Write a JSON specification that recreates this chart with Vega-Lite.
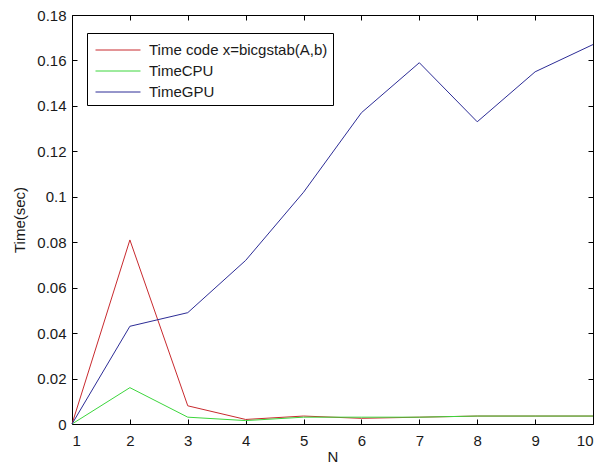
{
  "$schema": "https://vega.github.io/schema/vega-lite/v6.json",
  "width": 521,
  "height": 409,
  "autosize": {"type": "none"},
  "padding": {"left": 72, "top": 15, "right": 9, "bottom": 42},
  "background": "white",
  "config": {
    "font": "Liberation Sans",
    "view": {"stroke": "black", "strokeWidth": 1},
    "axis": {"grid": false, "domain": false, "tickColor": "black", "tickSize": 5, "offset": -5, "labelColor": "#1a1a1a", "labelFontSize": 15, "labelFont": "Liberation Sans", "titleFont": "Liberation Sans", "titleFontWeight": "normal", "titleFontSize": 15, "titleColor": "#1a1a1a"}
  },
  "data": {"values": [
    {"N": 1, "s": "Time code x=bicgstab(A,b)", "t": 0},
    {"N": 2, "s": "Time code x=bicgstab(A,b)", "t": 0.081},
    {"N": 3, "s": "Time code x=bicgstab(A,b)", "t": 0.008},
    {"N": 4, "s": "Time code x=bicgstab(A,b)", "t": 0.002},
    {"N": 5, "s": "Time code x=bicgstab(A,b)", "t": 0.0035},
    {"N": 6, "s": "Time code x=bicgstab(A,b)", "t": 0.0025},
    {"N": 7, "s": "Time code x=bicgstab(A,b)", "t": 0.003},
    {"N": 8, "s": "Time code x=bicgstab(A,b)", "t": 0.0035},
    {"N": 9, "s": "Time code x=bicgstab(A,b)", "t": 0.0035},
    {"N": 10, "s": "Time code x=bicgstab(A,b)", "t": 0.0035},
    {"N": 1, "s": "TimeCPU", "t": 0},
    {"N": 2, "s": "TimeCPU", "t": 0.016},
    {"N": 3, "s": "TimeCPU", "t": 0.003},
    {"N": 4, "s": "TimeCPU", "t": 0.0015},
    {"N": 5, "s": "TimeCPU", "t": 0.003},
    {"N": 6, "s": "TimeCPU", "t": 0.003},
    {"N": 7, "s": "TimeCPU", "t": 0.003},
    {"N": 8, "s": "TimeCPU", "t": 0.0035},
    {"N": 9, "s": "TimeCPU", "t": 0.0035},
    {"N": 10, "s": "TimeCPU", "t": 0.0035},
    {"N": 1, "s": "TimeGPU", "t": 0},
    {"N": 2, "s": "TimeGPU", "t": 0.043},
    {"N": 3, "s": "TimeGPU", "t": 0.049},
    {"N": 4, "s": "TimeGPU", "t": 0.072},
    {"N": 5, "s": "TimeGPU", "t": 0.102},
    {"N": 6, "s": "TimeGPU", "t": 0.137},
    {"N": 7, "s": "TimeGPU", "t": 0.159},
    {"N": 8, "s": "TimeGPU", "t": 0.133},
    {"N": 9, "s": "TimeGPU", "t": 0.155},
    {"N": 10, "s": "TimeGPU", "t": 0.167}
  ]},
  "layer": [
    {
      "mark": {"type": "line", "strokeWidth": 1},
      "encoding": {
        "x": {"field": "N", "type": "quantitative", "scale": {"domain": [1, 10], "nice": false},
              "axis": {"values": [1,2,3,4,5,6,7,8,9,10], "format": "d", "title": "N", "labelPadding": 9, "titlePadding": 1}},
        "y": {"field": "t", "type": "quantitative", "scale": {"domain": [0, 0.18], "nice": false},
              "axis": {"values": [0,0.02,0.04,0.06,0.08,0.1,0.12,0.14,0.16,0.18], "format": "~g", "title": "Time(sec)", "labelPadding": 6, "titlePadding": 9}},
        "color": {"field": "s", "type": "nominal",
          "scale": {"domain": ["Time code x=bicgstab(A,b)", "TimeCPU", "TimeGPU"], "range": ["#c82a2e", "#3cd63c", "#2c2c96"]},
          "legend": {"orient": "none", "legendX": 15, "legendY": 18, "title": null, "symbolType": "M-2,0H2", "symbolSize": 506, "symbolStrokeWidth": 1, "symbolOffset": 14, "labelFontSize": 15, "labelLimit": 400, "labelColor": "#1a1a1a", "strokeColor": "black", "fillColor": "white", "padding": 5, "rowPadding": 1, "labelOffset": 19, "offset": 0}}
      }
    },
    {
      "mark": {"type": "rule", "opacity": 0},
      "encoding": {
        "x": {"field": "N", "type": "quantitative", "axis": {"orient": "top", "values": [1,2,3,4,5,6,7,8,9,10], "labels": false, "title": null}},
        "y": {"field": "t", "type": "quantitative", "axis": {"orient": "right", "values": [0,0.02,0.04,0.06,0.08,0.1,0.12,0.14,0.16,0.18], "labels": false, "title": null}}
      }
    }
  ],
  "resolve": {"axis": {"x": "independent", "y": "independent"}}
}
